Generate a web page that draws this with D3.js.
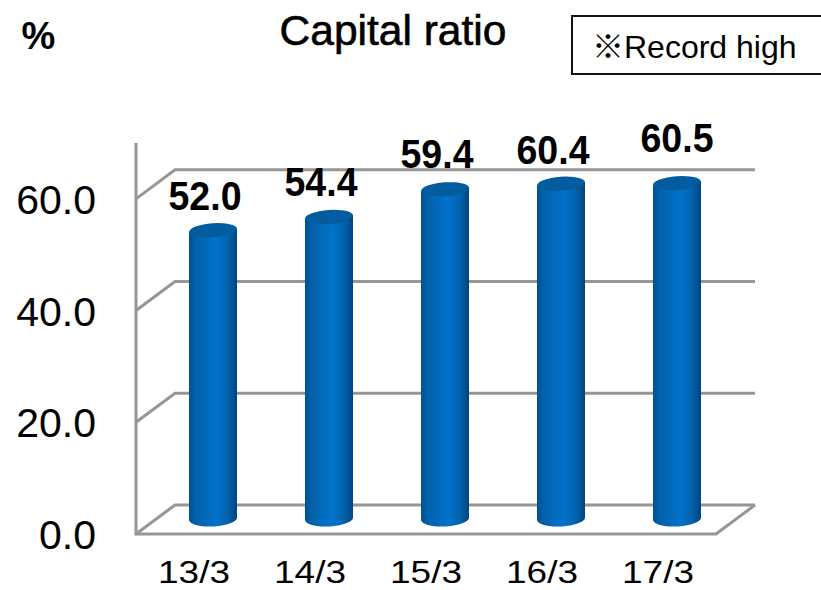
<!DOCTYPE html>
<html><head><meta charset="utf-8">
<style>html,body{margin:0;padding:0;background:#fff}svg{display:block}text{fill:#000}</style>
<script src="https://cdn.jsdelivr.net/npm/d3@7"></script></head>
<body><svg id="c" width="821" height="590"></svg>
<script>
const categories=["13/3","14/3","15/3","16/3","17/3"];
const values=[52.0,54.4,59.4,60.4,60.5];
const tickValues=[0,20,40,60];
const title="Capital ratio", unit="%", note="※Record high";
const svg=d3.select("#c");
const GREY="#969696";
const front=d3.scaleLinear().domain([0,70]).range([534,143]);
const barY=d3.scaleLinear().domain([0,60]).range([518,186]);
const x=d3.scaleBand().domain(categories).range([155,735]).paddingInner(0.586).paddingOuter(0.293);
const dx=39,dy=-29;
const defs=svg.append("defs");
const g=defs.append("linearGradient").attr("id","cyl");
[[0,"#02508f"],[0.12,"#0260a8"],[0.55,"#0272cb"],[0.8,"#0264b0"],[1,"#02447c"]].forEach(d=>g.append("stop").attr("offset",d[0]).attr("stop-color",d[1]));
const wall=svg.append("g").attr("fill","none").attr("stroke",GREY).attr("stroke-width",3);
tickValues.forEach(t=>{
  const y=front(t);
  wall.append("path").attr("d",d3.line()([[136,y],[136+dx,y+dy],[755,y+dy]]));
});
wall.append("path").attr("d",d3.line()([[136,front(70)],[136,534],[716,534],[755,534+dy]]));
const rx=x.bandwidth()/2, ry=8;
const bars=svg.append("g").selectAll("g").data(values).join("g");
bars.append("path").attr("fill","url(#cyl)").attr("d",(d,i)=>{
  const l=x(categories[i]),r=l+2*rx,b=barY(0),t=barY(d);
  return `M${l},${t+2}L${l},${b+2}A${rx},${ry} -3 0 0 ${r},${b-1}L${r},${t-2}Z`;
});
bars.append("ellipse").attr("fill","#025c9f")
  .attr("cx",(d,i)=>x(categories[i])+rx).attr("cy",d=>barY(d)).attr("rx",rx).attr("ry",ry-1)
  .attr("transform",(d,i)=>`rotate(-4 ${x(categories[i])+rx} ${barY(d)})`);
const labelDy=[-20,-21,-21,-20,-31], labelDx=[-8,-8,-8,-8,0];
svg.append("g").selectAll("text").data(values).join("text")
  .attr("font-family","'Liberation Sans'").attr("font-weight",700).attr("font-size",41)
  .attr("text-anchor","middle").attr("textLength",73).attr("lengthAdjust","spacingAndGlyphs")
  .attr("x",(d,i)=>x(categories[i])+rx+labelDx[i]).attr("y",(d,i)=>barY(d)+labelDy[i])
  .text(d=>d.toFixed(1));
svg.append("g").selectAll("text").data(tickValues).join("text")
  .attr("font-family","'Liberation Sans'").attr("font-size",41).attr("text-anchor","end")
  .attr("x",96).attr("y",d=>front(d)+15).text(d=>d.toFixed(1));
svg.append("g").selectAll("text").data(categories).join("text")
  .attr("font-family","'Liberation Sans'").attr("font-size",31).attr("text-anchor","middle")
  .attr("textLength",72).attr("lengthAdjust","spacingAndGlyphs")
  .attr("x",d=>x(d)+rx-19).attr("y",583).text(d=>d);
svg.append("text").attr("x",393).attr("y",45).attr("text-anchor","middle").attr("font-family","'Liberation Sans'").attr("font-size",42.5).attr("stroke","#000").attr("stroke-width",0.6).text(title);
svg.append("text").attr("x",38.5).attr("y",49).attr("text-anchor","middle").attr("font-family","'Liberation Sans'").attr("font-weight",700).attr("font-size",38).text(unit);
svg.append("rect").attr("x",572).attr("y",16).attr("width",260).attr("height",58).attr("fill","#fff").attr("stroke","#111").attr("stroke-width",2);
svg.append("text").attr("x",592).attr("y",58).attr("font-family","'Liberation Sans','Noto Sans CJK JP'").attr("font-size",32).text(note);
</script></body></html>
